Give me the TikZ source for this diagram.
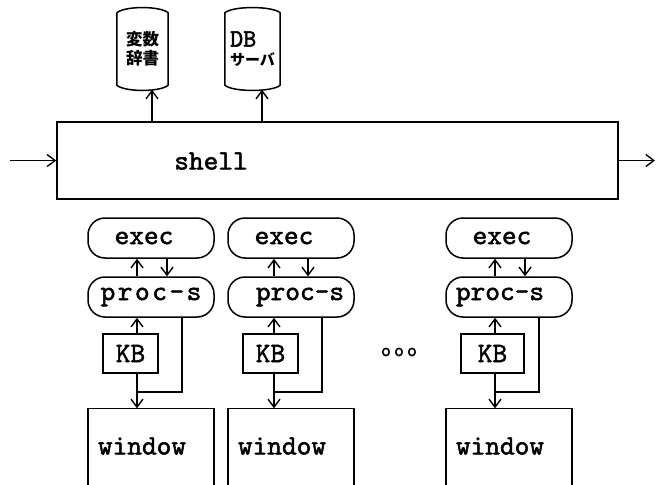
\documentclass[tikz,border=0pt]{standalone}
\usepackage{fontspec}
\newfontfamily\dgmono{lmmono10-regular}[Extension=.otf,FakeBold=1.8]
\newfontfamily\cjk{Noto Sans CJK JP}
\usetikzlibrary{arrows.meta,calc}
\newcommand\dgfont{\dgmono\fontsize{28}{28}\selectfont}
\begin{document}
\begin{tikzpicture}[x=1pt,y=-1pt,
  lw/.style={line width=1.5pt},
  rbox/.style={draw, lw, rounded corners=17pt, minimum width=126pt, minimum height=40pt, inner sep=0pt, font=\dgfont},
  sbox/.style={draw, lw, minimum height=39pt, inner sep=0pt, font=\dgfont},
  drum/.style={inner sep=0pt, minimum height=72pt, align=left, font=\cjk\bfseries\fontsize{16.5}{19}\selectfont},
  arr/.style={line width=1.4pt, -{Straight Barb[length=8pt,width=12pt,line width=1.4pt]}},
  conn/.style={line width=1.4pt}]
\useasboundingbox (0,0) rectangle (657,485);
\clip (0,0) rectangle (657,485);

% shell
\node[draw, lw, minimum width=561pt, minimum height=77pt, inner sep=0pt] (shell) at (337.5,160.5) {};
\node[font=\dgfont] (shelltxt) at (211,161) {shell};
\coordinate (in) at (10,160.5);
\coordinate (out) at (655,160.5);
\draw[arr] (in) -- (shell.west);
\draw[arr] (shell.east) -- (out);

% drums
\node[drum, minimum width=51pt] (dict) at (142.5,49) {変数\\辞書};
\node[drum, minimum width=55pt] (db) at (252.5,49) {{\dgmono\fontsize{25}{19}\selectfont DB}\\{\fontsize{15}{19}\selectfont サーバ}};
\foreach \n in {dict,db}{
  \draw[lw] (\n.south west) -- (\n.north west)
    .. controls ($(\n.north west)+(8,-7)$) and ($(\n.north east)+(-8,-7)$) .. (\n.north east)
    -- (\n.south east)
    .. controls ($(\n.south east)+(-8,7)$) and ($(\n.south west)+(8,7)$) .. cycle;
}
\coordinate (a1) at (152,0);
\coordinate (a2) at (262,0);
\draw[arr] (shell.north -| a1) -- ([yshift=-4.5pt]dict.south -| a1);
\draw[arr] (shell.north -| a2) -- ([yshift=-4.5pt]db.south -| a2);

% columns
\foreach \i/\cx/\up/\dn/\kx/\kw/\ka/\pl/\pa/\pb/\ls in {1/151/137/167/130.5/55/137/182/0/0/9, 2/291/274/308/270.5/55/274/322/18/0/0, 3/509/495/525/492.5/63/495/539/0/18/0}{
  \node[rbox] (e\i) at (\cx,238) {exec\kern14pt};
  \node[rbox] (p\i) at (\cx,297) {\kern\pa pt\addfontfeature{LetterSpace=\ls}proc-s\kern\pb pt};
  \node[sbox, minimum width=\kw pt] (k\i) at (\kx,353.5) {KB};
  \node[font=\dgfont, minimum width=126pt, minimum height=75pt, inner sep=0pt] (w\i) at (\cx,446) {window\kern18pt};
  \draw[lw] ([yshift=-20pt]w\i.south west) -- (w\i.north west) -- (w\i.north east) -- ([yshift=-20pt]w\i.south east);
  \coordinate (u\i) at (\up,0);
  \coordinate (d\i) at (\dn,0);
  \coordinate (ka\i) at (\ka,0);
  \coordinate (pl\i) at (\pl,0);
  \coordinate (j\i) at (\ka,392);
  \draw[arr] (p\i.north -| u\i) -- (e\i.south -| u\i);
  \draw[arr] (e\i.south -| d\i) -- (p\i.north -| d\i);
  \draw[arr] (k\i.north -| ka\i) -- (p\i.south -| ka\i);
  \draw[arr] (k\i.south -| ka\i) -- (w\i.north -| ka\i);
  \draw[conn] (p\i.south -| pl\i) |- (j\i);
}

\node[font=\dgmono\fontsize{19}{19}\selectfont, inner sep=0pt] (dots) at (399,352) {o\hspace{3pt}o\hspace{3pt}o};
\end{tikzpicture}
\end{document}
